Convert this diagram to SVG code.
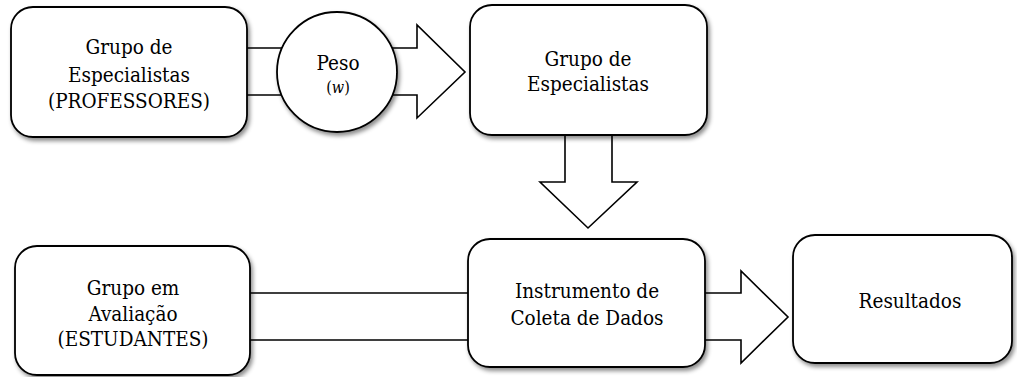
<svg xmlns="http://www.w3.org/2000/svg" width="1017" height="377" viewBox="0 0 1017 377">
<style>
.box{fill:#fff;stroke:#000;stroke-width:1.8;filter:url(#sh)}
.arr{fill:#fff;stroke:#000;stroke-width:1.6;stroke-linejoin:miter}
.t{font-family:"DejaVu Serif Condensed","Liberation Serif",serif;font-stretch:condensed;font-size:20.5px;fill:#000;text-anchor:middle}
.p{font-size:16px}
.s{font-size:16px;font-style:italic}
</style>
<defs>
<filter id="sh" x="-10%" y="-10%" width="125%" height="130%">
<feDropShadow dx="2" dy="3" stdDeviation="2" flood-color="#000" flood-opacity="0.45"/>
</filter>
</defs>
<rect width="1017" height="377" fill="#fff"/>
<g id="connectors">
<polygon class="arr" points="240,48 417,48 417,25 465,72 417,118 417,95 240,95"/>
<polygon class="arr" points="565,130 565,182 540,182 588,228 637,182 612,182 612,130"/>
<polygon class="arr" points="245,293 470,293 470,340 245,340"/>
<polygon class="arr" points="700,293 741,293 741,271 788,317 741,363 741,340 700,340"/>
</g>
<g id="node-professores">
<rect class="box" x="11" y="7" width="236" height="130" rx="22"/>
<text class="t" x="129" y="54">Grupo de</text>
<text class="t" x="129" y="82">Especialistas</text>
<text class="t" x="129" y="108">(PROFESSORES)</text>
</g>
<g id="node-peso">
<circle class="box" cx="337" cy="72" r="60"/>
<text class="t" x="338" y="70">Peso</text>
<text class="t" x="338" y="93"><tspan class="p">(</tspan><tspan class="s">w</tspan><tspan class="p">)</tspan></text>
</g>
<g id="node-especialistas">
<rect class="box" x="470" y="5" width="237" height="130" rx="22"/>
<text class="t" x="588" y="66">Grupo de</text>
<text class="t" x="588" y="91">Especialistas</text>
</g>
<g id="node-estudantes">
<rect class="box" x="15" y="246" width="235" height="129" rx="22"/>
<text class="t" x="133" y="295">Grupo em</text>
<text class="t" x="133" y="321">Avaliação</text>
<text class="t" x="133" y="346">(ESTUDANTES)</text>
</g>
<g id="node-instrumento">
<rect class="box" x="468" y="239" width="237" height="128" rx="22"/>
<text class="t" x="587" y="298">Instrumento de</text>
<text class="t" x="587" y="325">Coleta de Dados</text>
</g>
<g id="node-resultados">
<rect class="box" x="793" y="235" width="219" height="128" rx="22"/>
<text class="t" x="910" y="308">Resultados</text>
</g>
</svg>
